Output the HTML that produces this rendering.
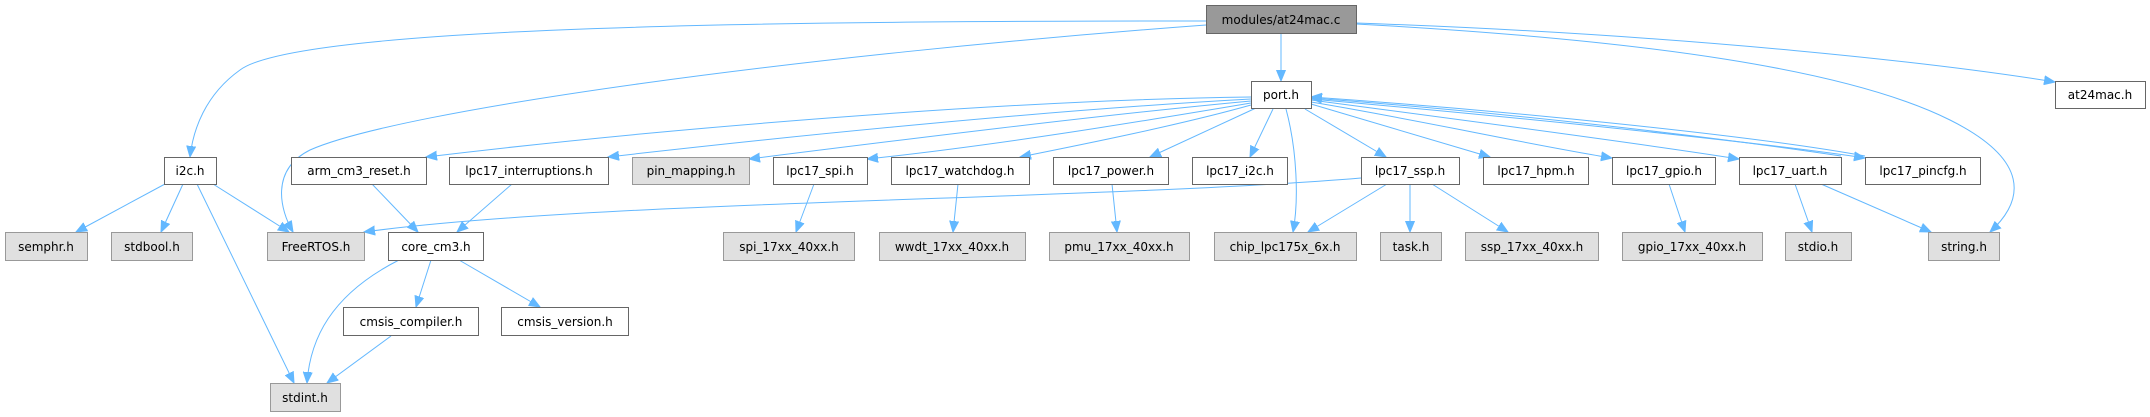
<!DOCTYPE html>
<html><head><meta charset="utf-8"><style>
html,body{margin:0;padding:0;background:#fff;}
svg{display:block;}
text{font-family:"DejaVu Sans","Liberation Sans",sans-serif;font-size:12px;fill:#000;text-anchor:middle;}
.w{fill:#fff;stroke:#666;stroke-width:1;}
.g{fill:#e0e0e0;stroke:#999;stroke-width:1;}
.m{fill:#999;stroke:#666;stroke-width:1;}
path{fill:none;stroke:#63b8ff;stroke-width:1;marker-end:url(#a);}
</style></head><body>
<svg width="2150" height="417" viewBox="0 0 2150 417" xmlns="http://www.w3.org/2000/svg">
<defs><marker id="a" markerUnits="userSpaceOnUse" markerWidth="12" markerHeight="10" refX="11" refY="5" orient="auto"><polygon points="0,0.5 11,5 0,9.5" fill="#63b8ff" stroke="#63b8ff"/></marker></defs>
<!-- edges -->
<path d="M1206,21 C800,21 300,25 240,70 C205,95 193,130 190,157"/>
<path d="M1206,25 C800,55 400,110 310,150 C270,170 280,210 293,232"/>
<path d="M1281,33 L1281,81"/>
<path d="M1356,23 C1700,35 1950,65 2055,82"/>
<path d="M1356,24 C1650,40 1850,70 1950,120 C2030,160 2025,200 1990,232"/>
<path d="M1251,97 C1000,100 650,130 426,157"/>
<path d="M1251,99 C1050,110 800,135 608,157"/>
<path d="M1251,101 C1100,115 900,140 749,159"/>
<path d="M1251,103 C1150,120 1000,145 867,159"/>
<path d="M1251,105 C1180,125 1080,145 1020,157"/>
<path d="M1256,108 L1150,157"/>
<path d="M1273,109 L1250,157"/>
<path d="M1286,109 C1297,150 1299,200 1293,232"/>
<path d="M1305,109 L1386,157"/>
<path d="M1311,104 L1490,157"/>
<path d="M1311,102 C1420,120 1530,145 1612,158"/>
<path d="M1311,100 C1500,125 1650,145 1739,159"/>
<path d="M1311,99 C1550,120 1780,145 1865,158"/>
<path d="M1865,156 C1750,135 1500,110 1311,97"/>
<path d="M1841,156 C1700,135 1500,112 1311,98"/>
<path d="M1361,178 C1100,200 600,200 364,232"/>
<path d="M1387,184 L1308,232"/>
<path d="M1410,184 L1410,232"/>
<path d="M1432,184 L1508,232"/>
<path d="M165,184 L76,232"/>
<path d="M183,184 L161,232"/>
<path d="M213,184 L289,232"/>
<path d="M197,184 L294,383"/>
<path d="M372,184 L418,232"/>
<path d="M512,184 L457,232"/>
<path d="M399,260 C330,295 310,340 307,383"/>
<path d="M431,260 L416,307"/>
<path d="M459,260 L540,307"/>
<path d="M391,336 L327,383"/>
<path d="M814,184 L796,232"/>
<path d="M958,184 L953,232"/>
<path d="M1112,184 L1117,232"/>
<path d="M1669,184 L1685,232"/>
<path d="M1795,184 L1812,232"/>
<path d="M1821,184 L1931,232"/>
<!-- nodes -->
<rect class="m" x="1206.5" y="5.5" width="150" height="28"/><text x="1281" y="24">modules/at24mac.c</text>
<rect class="w" x="1251.5" y="81.5" width="60" height="27"/><text x="1281" y="99">port.h</text>
<rect class="w" x="2055.5" y="81.5" width="90" height="27"/><text x="2100" y="99">at24mac.h</text>
<rect class="w" x="164.5" y="157.5" width="52" height="27"/><text x="190" y="175">i2c.h</text>
<rect class="w" x="291.5" y="157.5" width="135" height="27"/><text x="359" y="175">arm_cm3_reset.h</text>
<rect class="w" x="449.5" y="157.5" width="159" height="27"/><text x="529" y="175">lpc17_interruptions.h</text>
<rect class="g" x="632.5" y="157.5" width="117" height="27"/><text x="691" y="175">pin_mapping.h</text>
<rect class="w" x="773.5" y="157.5" width="94" height="27"/><text x="820" y="175">lpc17_spi.h</text>
<rect class="w" x="891.5" y="157.5" width="138" height="27"/><text x="960" y="175">lpc17_watchdog.h</text>
<rect class="w" x="1053.5" y="157.5" width="115" height="27"/><text x="1111" y="175">lpc17_power.h</text>
<rect class="w" x="1192.5" y="157.5" width="95" height="27"/><text x="1240" y="175">lpc17_i2c.h</text>
<rect class="w" x="1361.5" y="157.5" width="98" height="27"/><text x="1410" y="175">lpc17_ssp.h</text>
<rect class="w" x="1483.5" y="157.5" width="105" height="27"/><text x="1536" y="175">lpc17_hpm.h</text>
<rect class="w" x="1612.5" y="157.5" width="103" height="27"/><text x="1664" y="175">lpc17_gpio.h</text>
<rect class="w" x="1739.5" y="157.5" width="102" height="27"/><text x="1790" y="175">lpc17_uart.h</text>
<rect class="w" x="1865.5" y="157.5" width="115" height="27"/><text x="1923" y="175">lpc17_pincfg.h</text>
<rect class="g" x="5.5" y="232.5" width="82" height="28"/><text x="46" y="251">semphr.h</text>
<rect class="g" x="111.5" y="232.5" width="81" height="28"/><text x="152" y="251">stdbool.h</text>
<rect class="g" x="267.5" y="232.5" width="97" height="28"/><text x="316" y="251">FreeRTOS.h</text>
<rect class="w" x="388.5" y="232.5" width="95" height="28"/><text x="436" y="251">core_cm3.h</text>
<rect class="g" x="723.5" y="232.5" width="131" height="28"/><text x="789" y="251">spi_17xx_40xx.h</text>
<rect class="g" x="879.5" y="232.5" width="146" height="28"/><text x="952" y="251">wwdt_17xx_40xx.h</text>
<rect class="g" x="1049.5" y="232.5" width="140" height="28"/><text x="1119" y="251">pmu_17xx_40xx.h</text>
<rect class="g" x="1214.5" y="232.5" width="142" height="28"/><text x="1285" y="251">chip_lpc175x_6x.h</text>
<rect class="g" x="1380.5" y="232.5" width="61" height="28"/><text x="1411" y="251">task.h</text>
<rect class="g" x="1465.5" y="232.5" width="133" height="28"/><text x="1532" y="251">ssp_17xx_40xx.h</text>
<rect class="g" x="1622.5" y="232.5" width="140" height="28"/><text x="1692" y="251">gpio_17xx_40xx.h</text>
<rect class="g" x="1785.5" y="232.5" width="66" height="28"/><text x="1818" y="251">stdio.h</text>
<rect class="g" x="1928.5" y="232.5" width="71" height="28"/><text x="1964" y="251">string.h</text>
<rect class="w" x="343.5" y="307.5" width="135" height="28"/><text x="411" y="326">cmsis_compiler.h</text>
<rect class="w" x="501.5" y="307.5" width="127" height="28"/><text x="565" y="326">cmsis_version.h</text>
<rect class="g" x="270.5" y="383.5" width="70" height="28"/><text x="305" y="402">stdint.h</text>
</svg>
</body></html>
